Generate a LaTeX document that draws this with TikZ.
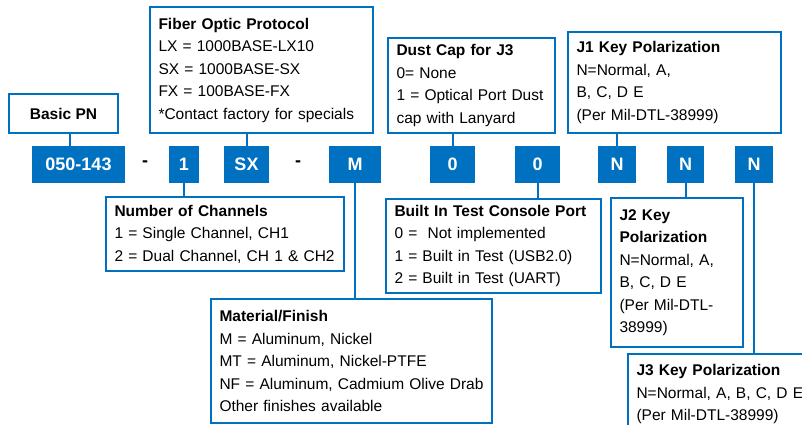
\documentclass[tikz,border=0pt]{standalone}
\usepackage{fontspec}
\setmainfont{Liberation Sans}
\definecolor{pnblue}{RGB}{0,112,192}

\begin{document}
\begin{tikzpicture}[x=1pt, y=-1pt,
    code/.style={fill=pnblue, text=white, inner sep=0pt, minimum height=37pt,
        font=\fontsize{18}{20}\selectfont\bfseries},
    info/.style={draw=pnblue, line width=2pt, fill=white, anchor=north west,
        align=left, inner xsep=8.5pt, inner ysep=0pt,
        font=\fontsize{15.5}{22.5}\selectfont},
    link/.style={draw=pnblue, line width=2pt}]
            \useasboundingbox (0, 0) rectangle (802, 425);
            \node[code, minimum width=93pt] (pn) at (78.5, 164.5) {050-143};
            \node[font=\fontsize{18}{20}\selectfont\bfseries] (d1) at (145, 164) {-};
            \node[code, minimum width=30pt] (ch) at (184, 164.5) {1};
            \node[code, minimum width=45pt] (fo) at (246.5, 164.5) {SX};
            \node[font=\fontsize{18}{20}\selectfont\bfseries] (d2) at (298, 164) {-};
            \node[code, minimum width=52pt] (mf) at (355, 164.5) {M};
            \node[code, minimum width=45pt] (dc) at (452.5, 164.5) {0};
            \node[code, minimum width=45pt] (bt) at (537.5, 164.5) {0};
            \node[code, minimum width=38pt] (k1) at (617, 164.5) {N};
            \node[code, minimum width=37pt] (k2) at (685.5, 164.5) {N};
            \node[code, minimum width=38pt] (k3) at (754, 164) {N};
            \node[info, align=center, minimum width=109pt, minimum height=39pt] (basic) at (8, 93) {\textbf{Basic PN}};
            \node[info, text width=206pt, minimum height=126pt] (fiber) at (149, 6) {\textbf{Fiber Optic Protocol}\\LX = 1000BASE-LX10\\SX = 1000BASE-SX\\FX = 100BASE-FX\\{}*Contact factory for specials};
            \node[info, text width=150pt, minimum height=95pt] (dust) at (387, 37) {\textbf{Dust Cap for J3}\\0= None\\1 = Optical Port Dust\\cap with Lanyard};
            \node[info, text width=196pt, minimum height=101pt] (pol1) at (567, 31) {\textbf{J1 Key Polarization}\\N=Normal, A,\\B, C, D E\\(Per Mil-DTL-38999)};
            \node[info, text width=221pt, minimum height=74pt] (chan) at (105, 196) {\textbf{Number of Channels}\\1 = Single Channel, CH1\\2 = Dual Channel, CH 1 \& CH2};
            \node[info, text width=264pt, minimum height=124pt] (finish) at (210, 298) {\textbf{Material/Finish}\\M = Aluminum, Nickel\\MT = Aluminum, Nickel-PTFE\\NF = Aluminum, Cadmium Olive Drab\\Other finishes available};
            \node[info, text width=198pt, minimum height=94pt] (console) at (385, 198) {\textbf{Built In Test Console Port}\\0 = \ Not implemented\\1 = Built in Test (USB2.0)\\2 = Built in Test (UART)};
            \node[info, text width=115pt, minimum height=149pt] (pol2) at (610, 197) {\textbf{J2 Key}\\\textbf{Polarization}\\N=Normal, A,\\B, C, D E\\(Per Mil-DTL-\\38999)};
            \node[info, text width=193pt, minimum height=80pt] (pol3) at (627, 353) {\textbf{J3 Key Polarization}\\N=Normal, A, B, C, D E\\(Per Mil-DTL-38999)};
            \coordinate (bp) at ([xshift=6.5pt]basic.south);
            \draw[link] (bp) -- (bp |- pn.north);
            \draw[link] (fo.north) -- (fo.north |- fiber.south);
            \draw[link] (dc.north) -- (dc.north |- dust.south);
            \draw[link] (k1.north) -- (k1.north |- pol1.south);
            \draw[link] (ch.south) -- (ch.south |- chan.north);
            \draw[link] (mf.south) -- (mf.south |- finish.north);
            \draw[link] (bt.south) -- (bt.south |- console.north);
            \draw[link] (k2.south) -- (k2.south |- pol2.north);
            \draw[link] (k3.south) -- (k3.south |- pol3.north);
        \end{tikzpicture}
\end{document}
